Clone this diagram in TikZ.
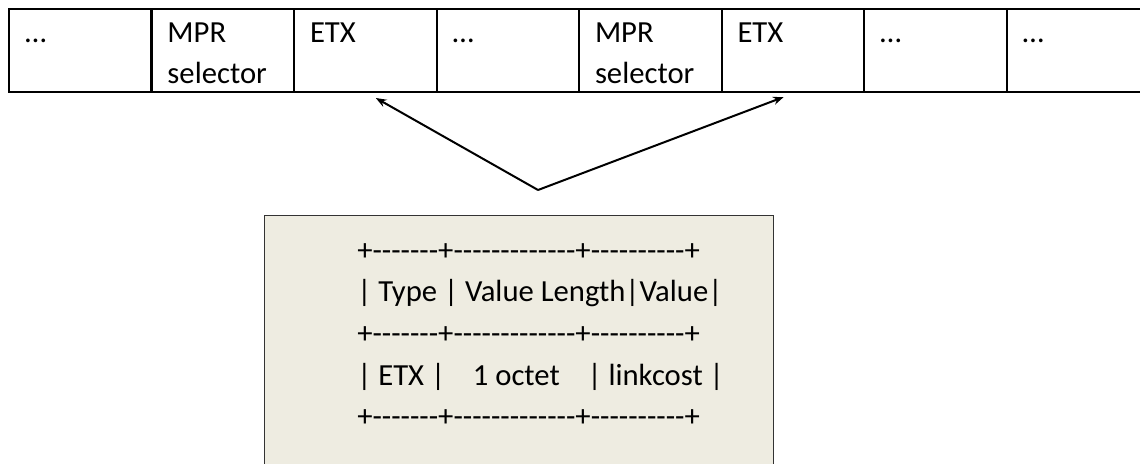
\documentclass[tikz,border=0pt]{standalone}
\usepackage{fontspec}
\setmainfont{Carlito}[Ligatures=TeXOff]
\usetikzlibrary{arrows.meta}
\definecolor{tlvfill}{HTML}{EEECE1}
\begin{document}
\begin{tikzpicture}
        \useasboundingbox (0,0) rectangle (855pt,-348pt);
        \clip (0,0) rectangle (855pt,-348pt);
        \begin{scope}[every node/.style={draw,line width=1.5pt,inner xsep=12pt,inner ysep=0pt,
                text width=82.875pt,align=left,text height=24.75pt,text depth=37.5pt,
                font=\fontsize{23pt}{30.75pt}\selectfont}]
            \node (c1) at (60.19pt,-37.875pt) {…};
            \node (c2) at (167.06pt,-37.875pt) {MPR\\selector};
            \node (c3) at (273.94pt,-37.875pt) {ETX};
            \node (c4) at (380.81pt,-37.875pt) {…};
            \node (c5) at (487.69pt,-37.875pt) {MPR\\selector};
            \node (c6) at (594.56pt,-37.875pt) {ETX};
            \node (c7) at (701.44pt,-37.875pt) {…};
            \node (c8) at (808.31pt,-37.875pt) {…};
        \end{scope}
        \node[draw=black!80,line width=0.8pt,fill=tlvfill,anchor=north west,inner sep=0pt,
            minimum width=381.75pt,minimum height=198.75pt] (tlv) at (198pt,-161.25pt) {};
        \foreach \row [count=\i] in {+-------+-------------+----------+,
                | Type | Value Length|Value|,
                +-------+-------------+----------+,
                | ETX |\ \ \ \ 1 octet\ \ \ \ | linkcost |,
                +-------+-------------+----------+}
            \node[anchor=base west,inner sep=0pt,font=\fontsize{23pt}{30.75pt}\selectfont]
                (row\i) at (267.75pt,-195pt-\i*31.3pt+31.3pt) {\row};
        \coordinate (apex) at ([xshift=14.25pt,yshift=18.75pt]tlv.north);
        \coordinate (tipL) at ([xshift=7.9pt,yshift=-3.75pt]c3.south);
        \coordinate (tipR) at ([xshift=-6.75pt,yshift=-3pt]c6.south);
        \begin{scope}[every edge/.style={draw,line width=1.5pt,-{Stealth[length=8pt,width=6pt]}}]
            \path
                (apex) edge (tipL)
                (apex) edge (tipR);
        \end{scope}
\end{tikzpicture}
\end{document}
